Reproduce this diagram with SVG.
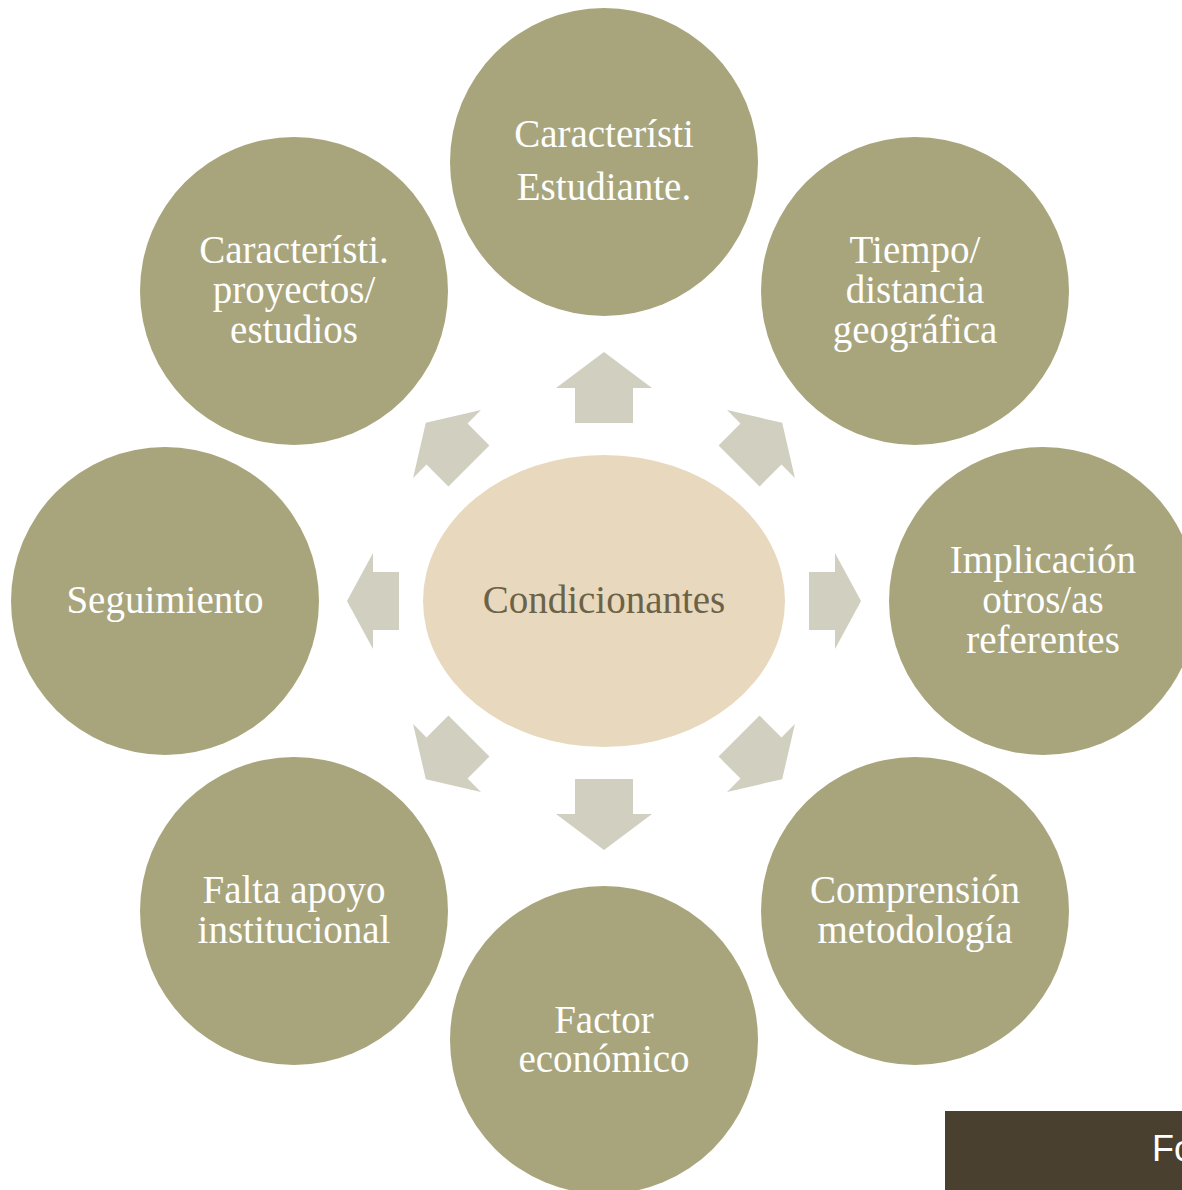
<svg xmlns="http://www.w3.org/2000/svg" width="1182" height="1190" viewBox="0 0 1182 1190">
<style>
.c{fill:#A8A57C}
.t{font-family:"Liberation Serif","Times New Roman",serif;font-size:39px;fill:#FFFFFF;text-anchor:middle}
.ct{font-family:"Liberation Serif","Times New Roman",serif;font-size:39px;fill:#6B6247;text-anchor:middle}
.a{fill:#D0CFC0}
</style>
<rect width="1182" height="1190" fill="#FFFFFF"/>
<g id="connectors">
  <path class="a" transform="translate(604,601) rotate(-90)" d="M178,-29 L213,-29 L213,-48 L249,0 L213,48 L213,29 L178,29 Z"/>
  <path class="a" transform="translate(604,601) rotate(90)" d="M178,-29 L213,-29 L213,-48 L249,0 L213,48 L213,29 L178,29 Z"/>
  <path class="a" transform="translate(604,601)" d="M205,-29 L231,-29 L231,-48 L257,0 L231,48 L231,29 L205,29 Z"/>
  <path class="a" transform="translate(604,601) rotate(180)" d="M205,-29 L231,-29 L231,-48 L257,0 L231,48 L231,29 L205,29 Z"/>
  <path class="a" transform="translate(604,601) rotate(-45)" d="M191,-29 L222,-29 L222,-48 L252,0 L222,48 L222,29 L191,29 Z"/>
  <path class="a" transform="translate(604,601) rotate(45)" d="M191,-29 L222,-29 L222,-48 L252,0 L222,48 L222,29 L191,29 Z"/>
  <path class="a" transform="translate(604,601) rotate(135)" d="M191,-29 L222,-29 L222,-48 L252,0 L222,48 L222,29 L191,29 Z"/>
  <path class="a" transform="translate(604,601) rotate(-135)" d="M191,-29 L222,-29 L222,-48 L252,0 L222,48 L222,29 L191,29 Z"/>
</g>
<g id="center">
  <ellipse cx="604" cy="601" rx="181" ry="146" fill="#E8D9BE"/>
  <text class="ct" x="604" y="613">Condicionantes</text>
</g>
<g id="n-top">
  <circle class="c" cx="604" cy="162" r="154"/>
  <text class="t" x="604" y="147">Característi</text>
  <text class="t" x="604" y="200">Estudiante.</text>
</g>
<g id="n-topright">
  <circle class="c" cx="915" cy="291" r="154"/>
  <text class="t" x="915" y="263">Tiempo/</text>
  <text class="t" x="915" y="303">distancia</text>
  <text class="t" x="915" y="343">geográfica</text>
</g>
<g id="n-right">
  <circle class="c" cx="1043" cy="601" r="154"/>
  <text class="t" x="1043" y="573">Implicación</text>
  <text class="t" x="1043" y="613">otros/as</text>
  <text class="t" x="1043" y="653">referentes</text>
</g>
<g id="n-bottomright">
  <circle class="c" cx="915" cy="911" r="154"/>
  <text class="t" x="915" y="903">Comprensión</text>
  <text class="t" x="915" y="943">metodología</text>
</g>
<g id="n-bottom">
  <circle class="c" cx="604" cy="1040" r="154"/>
  <text class="t" x="604" y="1033">Factor</text>
  <text class="t" x="604" y="1072">económico</text>
</g>
<g id="n-bottomleft">
  <circle class="c" cx="294" cy="911" r="154"/>
  <text class="t" x="294" y="903">Falta apoyo</text>
  <text class="t" x="294" y="943">institucional</text>
</g>
<g id="n-left">
  <circle class="c" cx="165" cy="601" r="154"/>
  <text class="t" x="165" y="613">Seguimiento</text>
</g>
<g id="n-topleft">
  <circle class="c" cx="294" cy="291" r="154"/>
  <text class="t" x="294" y="263">Característi.</text>
  <text class="t" x="294" y="303">proyectos/</text>
  <text class="t" x="294" y="343">estudios</text>
</g>
<g id="caption">
  <rect x="945" y="1111" width="237" height="79" fill="#4A4030"/>
  <text x="1152" y="1161" font-family="Liberation Sans, Arial, sans-serif" font-size="36" fill="#FFFFFF">Fo</text>
</g>
</svg>
